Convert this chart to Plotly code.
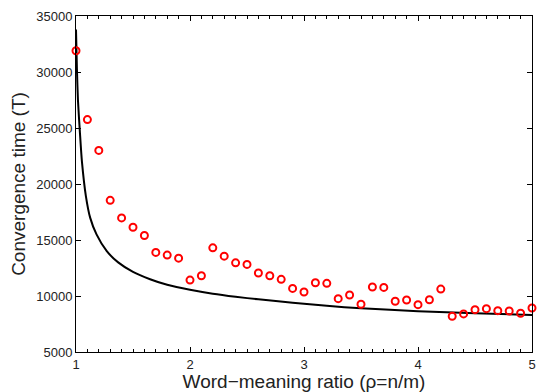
import plotly.graph_objects as go

ratio = [1.0, 1.1, 1.2, 1.3, 1.4, 1.5, 1.6, 1.7, 1.8, 1.9,
         2.0, 2.1, 2.2, 2.3, 2.4, 2.5, 2.6, 2.7, 2.8, 2.9,
         3.0, 3.1, 3.2, 3.3, 3.4, 3.5, 3.6, 3.7, 3.8, 3.9,
         4.0, 4.1, 4.2, 4.3, 4.4, 4.5, 4.6, 4.7, 4.8, 4.9, 5.0]
sim_time = [31900, 25750, 23000, 18540, 16970, 16140, 15400, 13890, 13650, 13380,
            11420, 11810, 14300, 13560, 12960, 12820, 12050, 11810, 11490, 10680,
            10360, 11180, 11130, 9760, 10090, 9260, 10800, 10770, 9530, 9640,
            9225, 9670, 10620, 8190, 8400, 8780, 8870, 8690, 8665, 8460, 8930]

curve_x = [1.0, 1.008, 1.017, 1.035, 1.052, 1.087, 1.124, 1.18, 1.27, 1.37,
           1.5, 1.65, 1.8, 2.0, 2.2, 2.4, 2.6, 2.9, 3.2, 3.5,
           4.0, 4.5, 5.0]
curve_y = [33800, 30300, 27500, 24500, 22000, 18900, 17000, 15500, 14000, 13000,
           12150, 11500, 11000, 10550, 10200, 9930, 9700, 9400, 9120, 8900,
           8640, 8460, 8310]

fig = go.Figure()
fig.add_trace(go.Scatter(x=curve_x, y=curve_y, mode="lines",
                         line=dict(color="black", width=2, shape="spline", smoothing=0.6),
                         showlegend=False))
fig.add_trace(go.Scatter(x=ratio, y=sim_time, mode="markers",
                         marker=dict(symbol="circle-open", size=7, color="#ff0000",
                                     line=dict(width=2, color="#ff0000")),
                         showlegend=False, cliponaxis=False))

axis_common = dict(showline=True, linecolor="black", linewidth=1, mirror="ticks",
                   ticks="inside", tickcolor="black", showgrid=False, zeroline=False,
                   tickfont=dict(family="Liberation Sans, Arial, sans-serif", size=13, color="#222"))

fig.update_layout(
    width=541, height=392,
    margin=dict(l=76, r=5, t=16, b=39),
    paper_bgcolor="white", plot_bgcolor="white",
    font=dict(family="Liberation Sans, Arial, sans-serif", color="#222"),
    xaxis=dict(range=[1, 5], tickvals=[1, 2, 3, 4, 5], ticklen=5,
               minor=dict(dtick=0.1, ticks="inside", ticklen=3, tickcolor="black"),
               title=dict(text="Word\u2212meaning ratio (\u03c1=n/m)", font=dict(size=19), standoff=2),
               **axis_common),
    yaxis=dict(range=[5000, 35000], tickvals=[5000, 10000, 15000, 20000, 25000, 30000, 35000],
               tickformat="d", ticklen=5,
               title=dict(text="Convergence time (T)", font=dict(size=19), standoff=5),
               **axis_common),
)
fig.write_html("out.html")
